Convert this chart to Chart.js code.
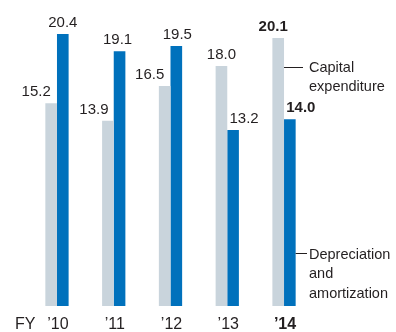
<!DOCTYPE html>
<html>
<head>
<meta charset="utf-8">
<script src="https://cdn.jsdelivr.net/npm/chart.js@4"></script>
<style>
  body { margin: 0; background: #fff; }
  #wrap { width: 396px; height: 332px; }
</style>
</head>
<body>
<div id="wrap"><canvas id="myChart" width="396" height="332"></canvas></div>
<script>
const years = ['\u201910', '\u201911', '\u201912', '\u201913', '\u201914'];
const capex = [15.2, 13.9, 16.5, 18.0, 20.1];
const depreciation = [20.4, 19.1, 19.5, 13.2, 14.0];

// label nudges (px) so the numbers don't collide
const capexShift = [-15, -14, -15, 0, -5];
const deprShift = [0, -2, 1, 11, 11];

const GREY = '#c9d4dc';
const BLUE = '#0071bc';
const INK = '#231f20';
const FONT = '"Liberation Sans", Arial, Helvetica, sans-serif';

const labelsPlugin = {
    id: 'labels',
    afterDatasetsDraw(chart) {
        const ctx = chart.ctx;
        const last = years.length - 1;
        ctx.save();
        ctx.fillStyle = INK;
        ctx.textBaseline = 'alphabetic';

        // value labels
        [capexShift, deprShift].forEach((shift, d) => {
            const meta = chart.getDatasetMeta(d);
            const vals = chart.data.datasets[d].data;
            meta.data.forEach((bar, i) => {
                ctx.font = (i === last ? 'bold ' : '') + '15px ' + FONT;
                ctx.textAlign = 'center';
                ctx.fillText(vals[i].toFixed(1), bar.x + shift[i], bar.y - 7);
            });
        });

        // category labels
        const xs = chart.scales.x;
        years.forEach((y, i) => {
            ctx.font = (i === last ? 'bold ' : '') + '16px ' + FONT;
            ctx.textAlign = 'center';
            ctx.fillText(y, xs.getPixelForValue(i) + 1, 329);
        });
        ctx.font = '16px ' + FONT;
        ctx.textAlign = 'left';
        ctx.fillText('FY', 15, 329);

        // series annotations next to the last group
        const g = chart.getDatasetMeta(0).data[last];
        const b = chart.getDatasetMeta(1).data[last];
        ctx.strokeStyle = INK;
        ctx.lineWidth = 1;
        ctx.beginPath();
        ctx.moveTo(g.x + g.width / 2, 67.5);
        ctx.lineTo(303, 67.5);
        ctx.moveTo(b.x + b.width / 2, 253.5);
        ctx.lineTo(307, 253.5);
        ctx.stroke();

        ctx.font = '14.5px ' + FONT;
        ctx.textAlign = 'left';
        ctx.fillText('Capital', 309, 72);
        ctx.fillText('expenditure', 309, 91);
        ctx.fillText('Depreciation', 309, 259);
        ctx.fillText('and', 309, 278);
        ctx.fillText('amortization', 309, 297.5);
        ctx.restore();
    }
};

const ctx = document.getElementById('myChart').getContext('2d');

const myChart = new Chart(ctx, {
    type: 'bar',
    data: {
        labels: years,
        datasets: [{
            label: 'Capital expenditure',
            data: capex,
            backgroundColor: GREY,
            borderWidth: 0
        }, {
            label: 'Depreciation and amortization',
            data: depreciation,
            backgroundColor: BLUE,
            borderWidth: 0
        }]
    },
    options: {
        responsive: false,
        animation: false,
        devicePixelRatio: 1,
        layout: {
            padding: { left: 28.6, right: 83.6, top: 0, bottom: 26 }
        },
        datasets: {
            bar: {
                categoryPercentage: 0.41,
                barPercentage: 1
            }
        },
        plugins: {
            legend: { display: false },
            tooltip: { enabled: false }
        },
        scales: {
            x: {
                display: false,
                grid: { display: false }
            },
            y: {
                display: false,
                min: 0,
                max: 22.95,
                grid: { display: false }
            }
        }
    },
    plugins: [labelsPlugin]
});
</script>
</body>
</html>
